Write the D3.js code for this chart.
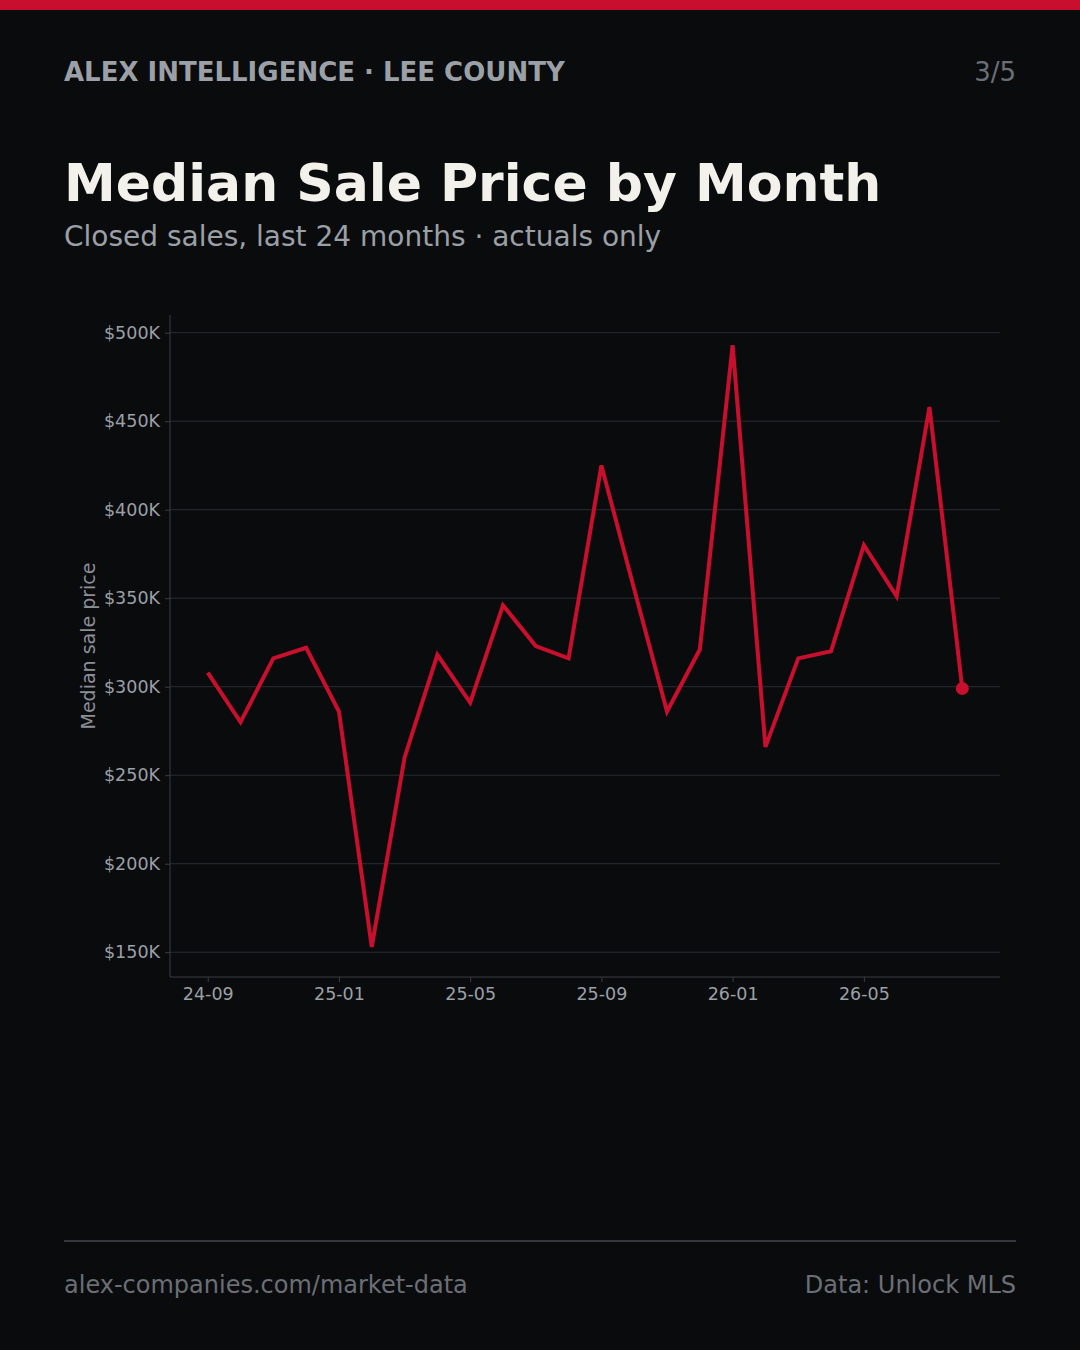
<!DOCTYPE html>
<html>
<head>
<meta charset="utf-8">
<script src="https://cdn.jsdelivr.net/npm/d3@7"></script>
<style>
  body { margin: 0; background: #0a0b0d; }
  svg { display: block; font-family: "DejaVu Sans", sans-serif; }
</style>
</head>
<body>
<div class="chart"></div>
<script>
"use strict";

// Month labels (YY-MM) and median sale price in $K
var months = ["24-09", "24-10", "24-11", "24-12", "25-01", "25-02", "25-03", "25-04",
    "25-05", "25-06", "25-07", "25-08", "25-09", "25-10", "25-11", "25-12",
    "26-01", "26-02", "26-03", "26-04", "26-05", "26-06", "26-07", "26-08"];
var prices = [308, 280, 316, 322, 286, 153, 260, 318,
    291, 346, 323, 316, 425, 355, 286, 321,
    493, 266, 316, 320, 380, 351, 458, 299];
var yTicks = [150, 200, 250, 300, 350, 400, 450, 500];
var xTickIdx = [0, 4, 8, 12, 16, 20];

var width = 1080;
var height = 1350;
var accent = "#c8102e";
var gridColor = "#2a2c30";
var spineColor = "#3a3d42";
var tickText = "#9aa0a6";

var svg = d3.select(".chart").append("svg")
    .attr("width", width)
    .attr("height", height);

svg.append("rect").attr("width", width).attr("height", height).attr("fill", "#0a0b0d");
svg.append("rect").attr("width", width).attr("height", 10).attr("fill", accent);

// Header
svg.append("text")
    .attr("x", 64).attr("y", 81)
    .style("font-size", "26px").style("font-weight", "bold")
    .style("fill", "#9aa0a6")
    .text("ALEX INTELLIGENCE · LEE COUNTY");
svg.append("text")
    .attr("x", 1016).attr("y", 81)
    .attr("text-anchor", "end")
    .style("font-size", "26px")
    .style("fill", "#6b6f75")
    .text("3/5");

svg.append("text")
    .attr("x", 64).attr("y", 201)
    .style("font-size", "52px").style("font-weight", "bold")
    .style("fill", "#f3f1ec")
    .text("Median Sale Price by Month");
svg.append("text")
    .attr("x", 64).attr("y", 246)
    .style("font-size", "28px")
    .style("fill", "#9aa0a6")
    .text("Closed sales, last 24 months · actuals only");

// Plot area
var plot = { left: 170, right: 1000, top: 315, bottom: 977 };
var n = prices.length;
var xPad = (n - 1) * 0.05;
var yMin = d3.min(prices), yMax = d3.max(prices);
var yPad = (yMax - yMin) * 0.05;

var x = d3.scaleLinear().domain([-xPad, n - 1 + xPad]).range([plot.left, plot.right]);
var y = d3.scaleLinear().domain([yMin - yPad, yMax + yPad]).range([plot.bottom, plot.top]);

// Gridlines
svg.append("g")
    .selectAll("line")
    .data(yTicks)
    .join("line")
    .attr("x1", plot.left).attr("x2", plot.right)
    .attr("y1", function (d) { return y(d); })
    .attr("y2", function (d) { return y(d); })
    .style("stroke", gridColor)
    .style("stroke-width", 1);

// Y axis
var yAxis = svg.append("g")
    .attr("transform", "translate(" + plot.left + ",0)")
    .call(d3.axisLeft(y).tickValues(yTicks).tickSize(5).tickPadding(5).tickSizeOuter(0)
        .tickFormat(function (d) { return "$" + d + "K"; }));
yAxis.select(".domain").remove();
yAxis.selectAll("line").style("stroke", spineColor);
yAxis.selectAll("text").style("fill", tickText).style("font-size", "17.5px")
    .style("font-family", "DejaVu Sans, sans-serif");

// X axis
var xAxis = svg.append("g")
    .attr("transform", "translate(0," + plot.bottom + ")")
    .call(d3.axisBottom(x).tickValues(xTickIdx).tickSize(5).tickPadding(6).tickSizeOuter(0)
        .tickFormat(function (i) { return months[i]; }));
xAxis.select(".domain").remove();
xAxis.selectAll("line").style("stroke", spineColor);
xAxis.selectAll("text").style("fill", tickText).style("font-size", "17.5px")
    .style("font-family", "DejaVu Sans, sans-serif");

// Spines
svg.append("line")
    .attr("x1", plot.left).attr("x2", plot.left)
    .attr("y1", plot.top).attr("y2", plot.bottom)
    .style("stroke", spineColor);
svg.append("line")
    .attr("x1", plot.left).attr("x2", plot.right)
    .attr("y1", plot.bottom).attr("y2", plot.bottom)
    .style("stroke", spineColor);

// Y label
svg.append("text")
    .attr("transform", "translate(95," + ((plot.top + plot.bottom) / 2) + ") rotate(-90)")
    .attr("text-anchor", "middle")
    .style("font-size", "19px")
    .style("fill", "#8a8f96")
    .text("Median sale price");

// Line
var line = d3.line()
    .x(function (d, i) { return x(i); })
    .y(function (d) { return y(d); });

svg.append("path")
    .datum(prices)
    .attr("d", line)
    .style("fill", "none")
    .style("stroke", accent)
    .style("stroke-width", 4)
    .style("stroke-linejoin", "miter");

// Last point marker
svg.append("circle")
    .attr("cx", x(n - 1))
    .attr("cy", y(prices[n - 1]))
    .attr("r", 6.5)
    .style("fill", accent);

// Footer
svg.append("line")
    .attr("x1", 64).attr("x2", 1016)
    .attr("y1", 1241).attr("y2", 1241)
    .style("stroke", "#33363b").style("stroke-width", 2);
svg.append("text")
    .attr("x", 64).attr("y", 1293)
    .style("font-size", "24px")
    .style("fill", "#6b6f75")
    .text("alex-companies.com/market-data");
svg.append("text")
    .attr("x", 1016).attr("y", 1293)
    .attr("text-anchor", "end")
    .style("font-size", "24px")
    .style("fill", "#6b6f75")
    .text("Data: Unlock MLS");
</script>
</body>
</html>
